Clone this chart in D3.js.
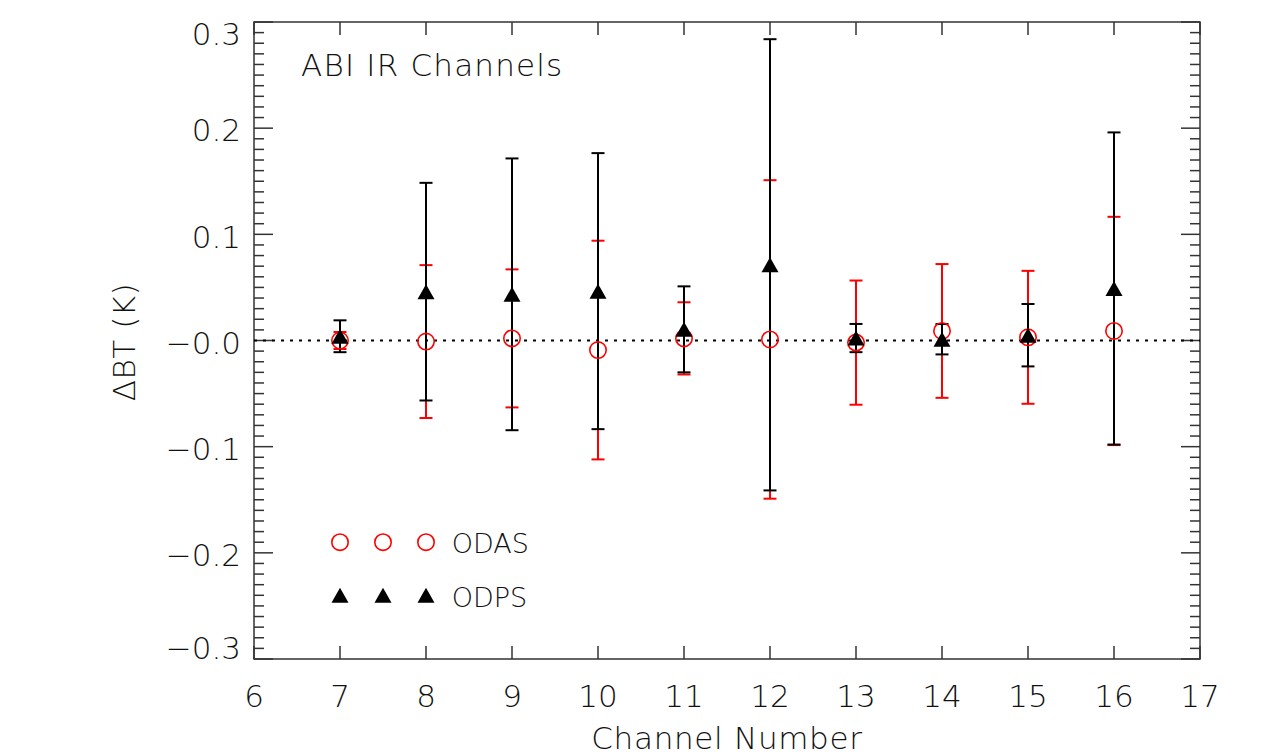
<!DOCTYPE html>
<html>
<head>
<meta charset="utf-8">
<script src="https://cdn.jsdelivr.net/npm/d3@7"></script>
<style>
  html, body { margin: 0; padding: 0; background: #fff; }
  svg { display: block; }
  text { font-family: "DejaVu Sans", "Liberation Sans", sans-serif; font-weight: 200; fill: #111; }
</style>
</head>
<body>
<svg id="chart" width="1281" height="755"></svg>
<script>
// ---- data ----
const channels = [7, 8, 9, 10, 11, 12, 13, 14, 15, 16];
const odasMean = [0.000, -0.001, 0.002, -0.009, 0.002, 0.001, -0.002, 0.009, 0.003, 0.009];
const odasErr  = [0.008, 0.072, 0.065, 0.103, 0.034, 0.150, 0.0585, 0.063, 0.0626, 0.1075];
const odpsMean = [0.004, 0.046, 0.0435, 0.0465, 0.0105, 0.0713, 0.0023, 0.0012, 0.005, 0.049];
const odpsErr  = [0.015, 0.1025, 0.128, 0.130, 0.0405, 0.2125, 0.0133, 0.0143, 0.0294, 0.147];
const xTicks = [6, 7, 8, 9, 10, 11, 12, 13, 14, 15, 16, 17];
const yTicks = [-0.3, -0.2, -0.1, 0.0, 0.1, 0.2, 0.3];
const yTickLabels = ["\u22120.3", "\u22120.2", "\u22120.1", "\u22120.0", "0.1", "0.2", "0.3"];
const seriesNames = ["ODAS", "ODPS"];
const titleText = "ABI IR Channels";
const xTitle = "Channel Number";
const yTitle = "\u0394BT (K)";

// ---- layout ----
const L = 254, R = 1200, T = 22, B = 659;
const fs = 31;
const svg = d3.select("#chart");
const x = d3.scaleLinear().domain([6, 17]).range([L, R]);
const y = d3.scaleLinear().domain([-0.3, 0.3]).range([B, T]);

const axisColor = "#333";
const g = svg.append("g");

// frame
g.append("rect").attr("x", L).attr("y", T).attr("width", R - L).attr("height", B - T)
  .attr("fill", "none").attr("stroke", axisColor).attr("stroke-width", 1.5);

// y ticks (left & right, inward), minor every 0.01
const minor = d3.range(-30, 31).map(i => i / 100);
minor.forEach(v => {
  const isMajor = Math.abs(Math.round(v * 10) - v * 10) < 1e-6;
  const len = isMajor ? 19 : 10;
  g.append("line").attr("x1", L).attr("x2", L + len).attr("y1", y(v)).attr("y2", y(v))
    .attr("stroke", axisColor).attr("stroke-width", 1.5);
  g.append("line").attr("x1", R).attr("x2", R - len).attr("y1", y(v)).attr("y2", y(v))
    .attr("stroke", axisColor).attr("stroke-width", 1.5);
});
// x ticks (bottom & top, inward)
xTicks.forEach(v => {
  g.append("line").attr("x1", x(v)).attr("x2", x(v)).attr("y1", B).attr("y2", B - 13)
    .attr("stroke", axisColor).attr("stroke-width", 1.5);
  g.append("line").attr("x1", x(v)).attr("x2", x(v)).attr("y1", T).attr("y2", T + 13)
    .attr("stroke", axisColor).attr("stroke-width", 1.5);
});

// tick labels
const capHalf = fs * 0.729 / 2;
yTicks.forEach((v, i) => {
  let shift = 2;
  if (i === yTicks.length - 1) shift = 12;
  if (i === 0) shift = -11;
  g.append("text").attr("x", 241).attr("y", y(v) + shift + capHalf)
    .attr("text-anchor", "end").attr("font-size", fs).text(yTickLabels[i]);
});
xTicks.forEach(v => {
  g.append("text").attr("x", x(v)).attr("y", 696 + capHalf)
    .attr("text-anchor", "middle").attr("font-size", fs).text(String(v));
});

// axis titles
g.append("text").attr("x", (L + R) / 2).attr("y", 749)
  .attr("text-anchor", "middle").attr("font-size", fs).attr("letter-spacing", 0.7).text(xTitle);
g.append("text").attr("transform", `translate(${124 + capHalf},342) rotate(-90)`)
  .attr("text-anchor", "middle").attr("font-size", fs).attr("letter-spacing", 0.5).text(yTitle);

// in-plot title
g.append("text").attr("x", 301).attr("y", 76).attr("font-size", fs).attr("letter-spacing", 1.2)
  .text(titleText);

// zero line
g.append("line").attr("x1", L).attr("x2", R).attr("y1", y(0)).attr("y2", y(0))
  .attr("stroke", "#000").attr("stroke-width", 2).attr("stroke-dasharray", "3,6");

// error bars
function errBars(means, errs, color) {
  const eg = g.append("g").attr("stroke", color).attr("stroke-width", 2).attr("fill", "none");
  channels.forEach((c, i) => {
    const lo = means[i] - errs[i], hi = means[i] + errs[i];
    eg.append("line").attr("x1", x(c)).attr("x2", x(c)).attr("y1", y(lo)).attr("y2", y(hi));
    eg.append("line").attr("x1", x(c) - 6.5).attr("x2", x(c) + 6.5).attr("y1", y(lo)).attr("y2", y(lo));
    eg.append("line").attr("x1", x(c) - 6.5).attr("x2", x(c) + 6.5).attr("y1", y(hi)).attr("y2", y(hi));
  });
}
errBars(odasMean, odasErr, "#ff0000");
errBars(odpsMean, odpsErr, "#000");

function circle(parent, cx, cy) {
  parent.append("circle").attr("cx", cx).attr("cy", cy).attr("r", 8.2)
    .attr("fill", "none").attr("stroke", "#ff0000").attr("stroke-width", 1.6);
}
function tri(parent, cx, cy) {
  parent.append("path")
    .attr("d", `M${cx},${cy - 7.5}L${cx + 8.5},${cy + 7.5}L${cx - 8.5},${cy + 7.5}Z`)
    .attr("fill", "#000");
}
const mg = g.append("g");
channels.forEach((c, i) => circle(mg, x(c), y(odasMean[i])));
channels.forEach((c, i) => tri(mg, x(c), y(odpsMean[i])));

// legend (in data units)
const legX = [7, 7.5, 8];
const legTextX = 8.3;
const legY = [-0.19, -0.24];
legX.forEach(v => circle(mg, x(v), y(legY[0])));
legX.forEach(v => tri(mg, x(v), y(legY[1])));
const lfs = 27;
g.append("text").attr("x", x(legTextX)).attr("y", y(legY[0]) + lfs * 0.729 / 2 + 1)
  .attr("font-size", lfs).text(seriesNames[0]);
g.append("text").attr("x", x(legTextX)).attr("y", y(legY[1]) + lfs * 0.729 / 2 + 2)
  .attr("font-size", lfs).text(seriesNames[1]);
</script>
</body>
</html>
